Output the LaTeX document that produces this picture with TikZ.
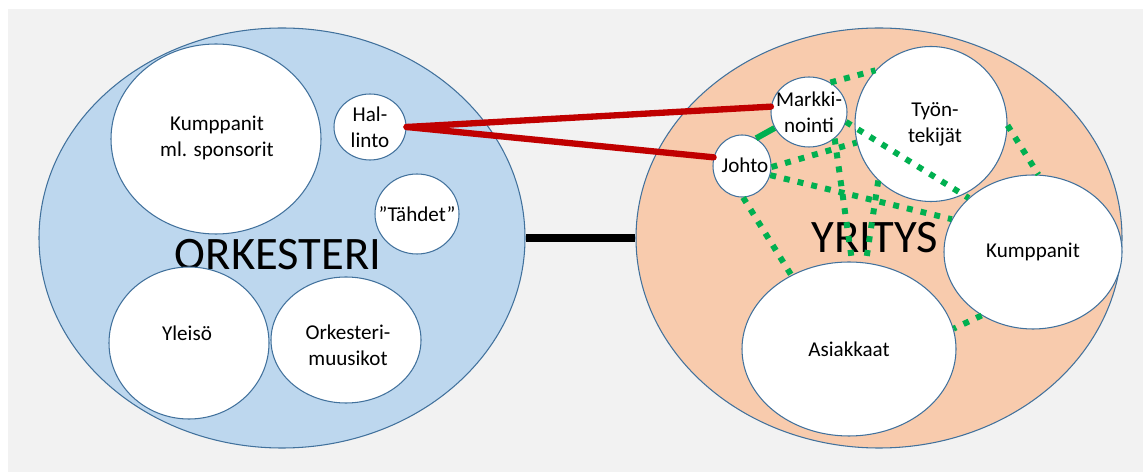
\documentclass[tikz,border=0pt]{standalone}
\usepackage{fontspec}
\setmainfont{Carlito}
\usepackage{tikz}
\usetikzlibrary{shapes.geometric}
\usetikzlibrary{calc}
\definecolor{fzfzfz}{rgb}{0.949,0.949,0.949}
\definecolor{bdd7ee}{rgb}{0.741,0.843,0.933}
\definecolor{fecbad}{rgb}{0.973,0.796,0.678}
\definecolor{ww719c}{rgb}{0.255,0.443,0.612}
\definecolor{ccqqqq}{rgb}{0.753,0.,0.}
\definecolor{qqbqfq}{rgb}{0.,0.690,0.314}
\tikzset{
  bubble/.style={ellipse,draw=ww719c,line width=0.6pt,fill=white,inner sep=0pt},
  blob/.style={ellipse,draw=ww719c,line width=0.6pt,inner sep=0pt,minimum width=9.72cm,minimum height=8.4cm},
  txt/.style={font=\fontsize{12}{14.8}\selectfont,align=center},
  bigtxt/.style={font=\fontsize{26.5}{30}\selectfont},
  tie/.style={line width=3.4pt,color=qqbqfq,line cap=butt,dash pattern=on 3.4pt off 4.6pt},
}

\begin{document}
\begin{tikzpicture}[line cap=round,line join=round,x=1.0cm,y=1.0cm]
            \useasboundingbox (0.,0.) rectangle (22.86,9.44);
            \fill[color=fzfzfz] (0.16,0.) rectangle (22.86,9.26);
            % orkesteri
            \node[blob,fill=bdd7ee] (orkesteri) at (5.64,4.68) {};
            \node[bigtxt] (orkesteri-t) at (5.56,4.34) {ORKESTERI};
            \node[bubble,minimum width=4.2cm,minimum height=3.8cm] (kumppanitO) at (4.32,6.66) {};
            \node[bubble,minimum width=1.44cm,minimum height=1.32cm] (hallinto) at (7.40,6.90) {};
            \node[bubble,minimum width=1.68cm,minimum height=1.6cm] (tahdet) at (8.34,5.16) {};
            \node[bubble,minimum width=3.2cm,minimum height=3.04cm] (yleiso) at (3.78,2.58) {};
            \node[bubble,minimum width=3.0cm,minimum height=2.52cm] (muusikot) at (6.92,2.64) {};
            \node[txt] (kumppanitO-t) at (4.34,6.68) {Kumppanit\\ml. sponsorit};
            \node[txt] (hallinto-t) at (hallinto) {Hal-\\linto};
            \node[txt] (tahdet-t) at (tahdet) {”Tähdet”};
            \node[txt] (yleiso-t) at (3.74,2.78) {Yleisö};
            \node[txt] (muusikot-t) at (6.96,2.54) {Orkesteri-\\muusikot};
            % yritys
            \node[blob,fill=fecbad] (yritys) at (17.58,4.68) {};
            \node[bigtxt] (yritys-t) at (17.50,4.68) {YRITYS};
            \node[bubble,minimum width=1.52cm,minimum height=1.4cm] (markkinointi) at (16.18,7.20) {};
            \node[bubble,minimum width=3.04cm,minimum height=3.1cm] (tyontekijat) at (18.62,6.96) {};
            \node[bubble,minimum width=1.16cm,minimum height=1.24cm] (johto) at (14.84,6.12) {};
            \node[bubble,minimum width=3.56cm,minimum height=3.08cm] (kumppanitY) at (20.66,4.40) {};
            \node[bubble,minimum width=4.28cm,minimum height=3.48cm] (asiakkaat) at (16.98,2.46) {};
            \node[txt] (markkinointi-t) at (markkinointi) {Markki-\\nointi};
            \node[txt] (tyontekijat-t) at (18.70,6.96) {Työn-\\tekijät};
            \node[txt] (johto-t) at (14.90,6.14) {Johto};
            \node[txt] (kumppanitY-t) at (kumppanitY) {Kumppanit};
            \node[txt] (asiakkaat-t) at (asiakkaat) {Asiakkaat};
            % yhteydet
            \draw [line width=4.2pt,line cap=butt] (orkesteri.east) -- (yritys.west);
            \draw [line width=3.6pt,color=ccqqqq] (hallinto.east) -- (markkinointi.172);
            \draw [line width=3.6pt,color=ccqqqq] (hallinto.east) -- (johto.163);
            \draw [line width=3.4pt,color=qqbqfq,line cap=butt] (johto.63) -- (markkinointi.205);
            \draw [tie] (markkinointi.54) -- (tyontekijat.136);
            \draw [tie] (markkinointi.-15) -- (kumppanitY.140);
            \draw [tie] (johto.-2) -- (tyontekijat.194);
            \draw [tie] (johto.-18) -- (kumppanitY.158);
            \draw [tie] (johto.-88) -- (asiakkaat.128);
            \draw [tie] (markkinointi.-46) -- (asiakkaat.88);
            \draw [tie] (tyontekijat.227) -- (asiakkaat.79);
            \draw [tie] (tyontekijat.-1) -- (kumppanitY.86);
            \draw [tie] (kumppanitY.231) -- (asiakkaat.11);
            \end{tikzpicture}
\end{document}
